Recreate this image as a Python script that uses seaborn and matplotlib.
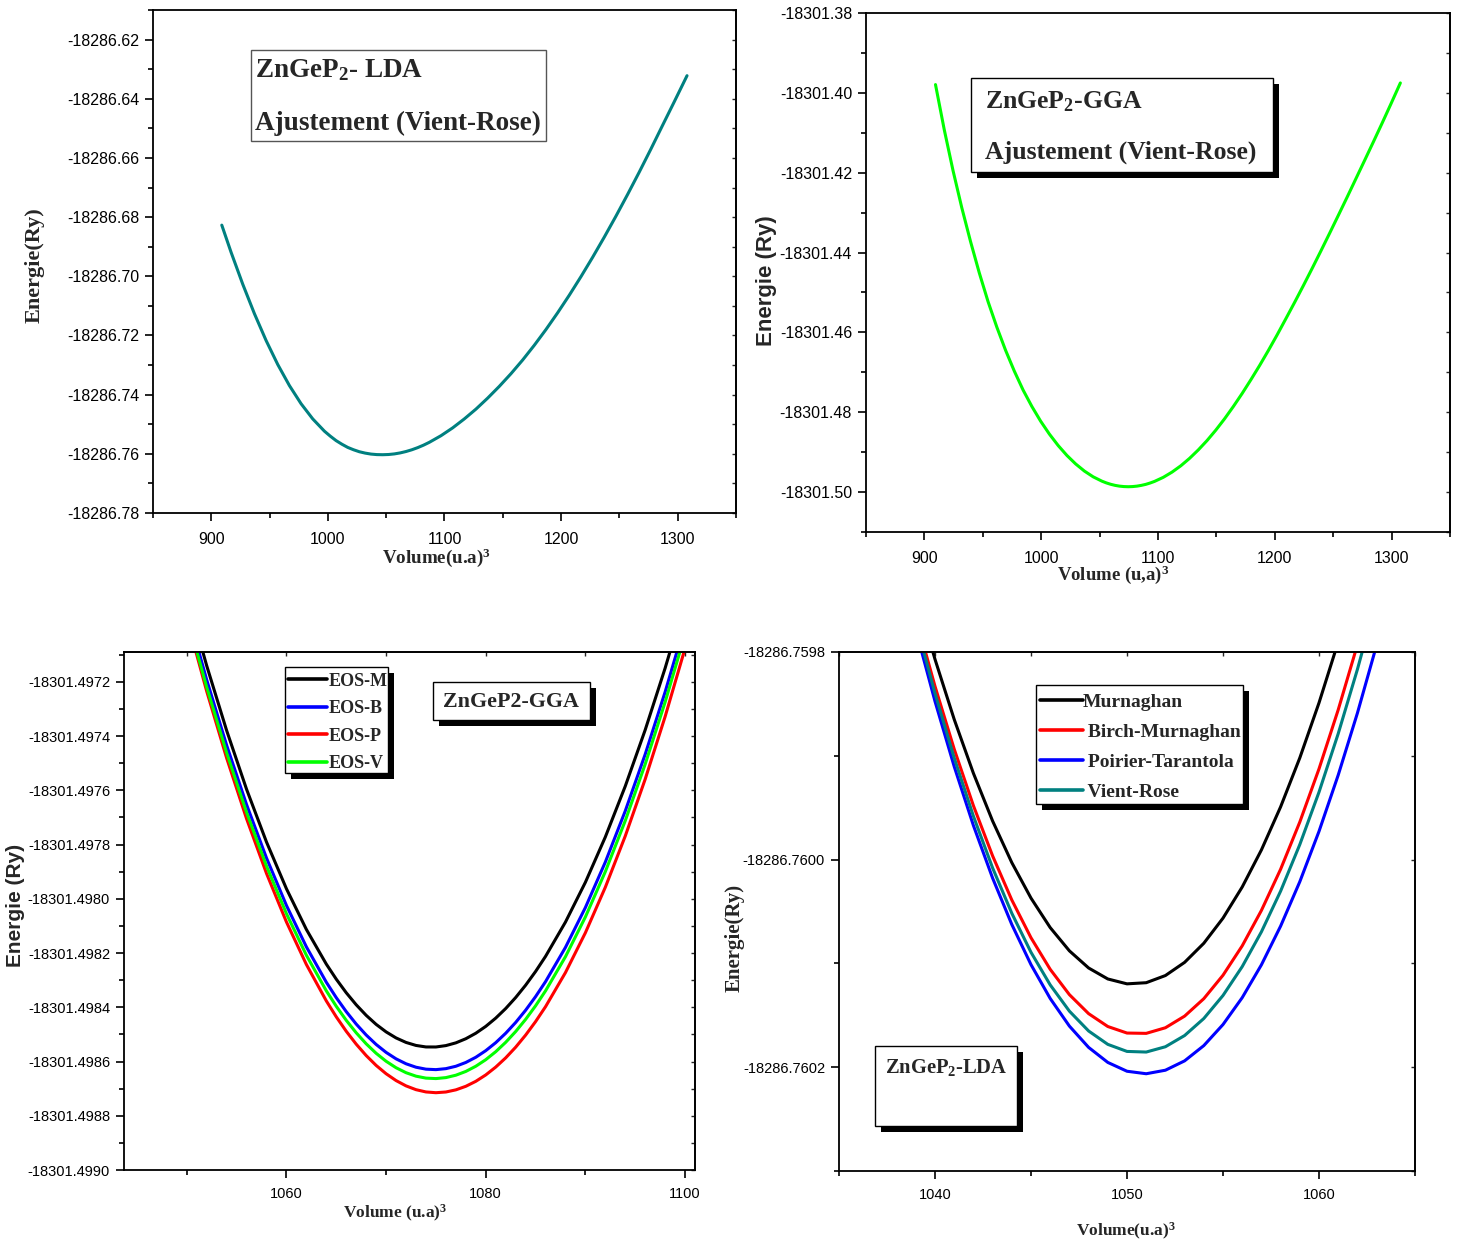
import matplotlib
matplotlib.use("Agg")
import matplotlib.pyplot as plt
import pandas as pd
import seaborn as sns
from matplotlib.patches import Rectangle
from matplotlib.lines import Line2D
from matplotlib.ticker import (MultipleLocator, AutoMinorLocator,
                               FormatStrFormatter, NullFormatter)

# ---------------------------------------------------------------------------
# E(V) data, ZnGeP2
# ---------------------------------------------------------------------------
# LDA, Vinet (Vient-Rose) fit, wide volume range
lda_vr_volume = [909, 917, 927, 937, 947, 957, 967, 977, 987, 997, 1002, 1007,
                 1012, 1017, 1022, 1027, 1032, 1037, 1042, 1047, 1052, 1057,
                 1062, 1067, 1072, 1077, 1082, 1087, 1097, 1107, 1117, 1127,
                 1137, 1147, 1157, 1167, 1177, 1187, 1197, 1207, 1217, 1227,
                 1237, 1247, 1257, 1267, 1277, 1287, 1297, 1308]
lda_vr_energy = [-18286.68271, -18286.69192, -18286.70270, -18286.71265,
                 -18286.72171, -18286.72982, -18286.73694, -18286.74307,
                 -18286.74820, -18286.75234, -18286.75401, -18286.75553,
                 -18286.75675, -18286.75783, -18286.75863, -18286.75930,
                 -18286.75976, -18286.76009, -18286.76026, -18286.76030,
                 -18286.76023, -18286.76003, -18286.75969, -18286.75922,
                 -18286.75863, -18286.75791, -18286.75707, -18286.75611,
                 -18286.75387, -18286.75123, -18286.74820, -18286.74488,
                 -18286.74118, -18286.73720, -18286.73292, -18286.72830,
                 -18286.72331, -18286.71800, -18286.71235, -18286.70640,
                 -18286.70014, -18286.69360, -18286.68678, -18286.67970,
                 -18286.67236, -18286.66480, -18286.65700, -18286.64900,
                 -18286.64105, -18286.63220]

# GGA, Vinet (Vient-Rose) fit, wide volume range
gga_vr_volume = [909.5, 917, 924.5, 932, 939.5, 947, 954.5, 962, 969.5, 977,
                 984.5, 992, 999.5, 1007, 1014.5, 1022, 1029.5, 1037, 1044.5,
                 1052, 1055.75, 1059.5, 1063.25, 1067, 1070.75, 1074.5, 1078.25,
                 1082, 1085.75, 1089.5, 1093.25, 1097, 1104.5, 1112, 1119.5,
                 1127, 1134.5, 1142, 1149.5, 1157, 1164.5, 1172, 1179.5, 1187,
                 1194.5, 1202, 1209.5, 1217, 1224.5, 1232, 1239.5, 1247, 1254.5,
                 1262, 1269.5, 1277, 1284.5, 1292, 1299.5, 1307.5]
gga_vr_energy = [-18301.39793, -18301.40923, -18301.41946, -18301.42876,
                 -18301.43724, -18301.44510, -18301.45229, -18301.45867,
                 -18301.46448, -18301.46971, -18301.47444, -18301.47855,
                 -18301.48223, -18301.48547, -18301.48833, -18301.49082,
                 -18301.49295, -18301.49474, -18301.49618, -18301.49727,
                 -18301.49770, -18301.49805, -18301.49832, -18301.49851,
                 -18301.49862, -18301.49866, -18301.49862, -18301.49851,
                 -18301.49832, -18301.49807, -18301.49773, -18301.49733,
                 -18301.49631, -18301.49500, -18301.49342, -18301.49156,
                 -18301.48944, -18301.48709, -18301.48448, -18301.48164,
                 -18301.47857, -18301.47532, -18301.47187, -18301.46829,
                 -18301.46453, -18301.46062, -18301.45656, -18301.45246,
                 -18301.44826, -18301.44396, -18301.43958, -18301.43513,
                 -18301.43062, -18301.42608, -18301.42147, -18301.41686,
                 -18301.41222, -18301.40752, -18301.40272, -18301.39752]

# GGA, four equations of state around the minimum
gga_eos_volume = [1048, 1050, 1052, 1054, 1056, 1058, 1060, 1062, 1064, 1065,
                  1066, 1067, 1068, 1069, 1070, 1071, 1072, 1073, 1074, 1075,
                  1076, 1077, 1078, 1079, 1080, 1081, 1082, 1083, 1084, 1085,
                  1086, 1088, 1090, 1092, 1094, 1096, 1098, 1100, 1102]
gga_eos_m = [-18301.4965961, -18301.4968795, -18301.4971406, -18301.4973795,
             -18301.4975962, -18301.4977907, -18301.4979629, -18301.4981129,
             -18301.4982407, -18301.4982963, -18301.4983463, -18301.4983907,
             -18301.4984296, -18301.4984630, -18301.4984907, -18301.4985130,
             -18301.4985296, -18301.4985407, -18301.4985463, -18301.4985464,
             -18301.4985413, -18301.4985312, -18301.4985160, -18301.4984958,
             -18301.4984705, -18301.4984401, -18301.4984047, -18301.4983642,
             -18301.4983187, -18301.4982681, -18301.4982124, -18301.4980859,
             -18301.4979392, -18301.4977722, -18301.4975850, -18301.4973775,
             -18301.4971498, -18301.4969019, -18301.4966337]
gga_eos_b = [-18301.4966441, -18301.4969294, -18301.4971926, -18301.4974338,
             -18301.4976527, -18301.4978496, -18301.4980244, -18301.4981770,
             -18301.4983075, -18301.4983644, -18301.4984159, -18301.4984618,
             -18301.4985021, -18301.4985370, -18301.4985663, -18301.4985901,
             -18301.4986083, -18301.4986210, -18301.4986282, -18301.4986299,
             -18301.4986263, -18301.4986175, -18301.4986035, -18301.4985844,
             -18301.4985600, -18301.4985306, -18301.4984959, -18301.4984561,
             -18301.4984110, -18301.4983608, -18301.4983055, -18301.4981792,
             -18301.4980323, -18301.4978647, -18301.4976763, -18301.4974673,
             -18301.4972376, -18301.4969872, -18301.4967161]
gga_eos_p = [-18301.4966753, -18301.4969662, -18301.4972349, -18301.4974811,
             -18301.4977049, -18301.4979064, -18301.4980854, -18301.4982421,
             -18301.4983764, -18301.4984352, -18301.4984884, -18301.4985359,
             -18301.4985779, -18301.4986143, -18301.4986450, -18301.4986702,
             -18301.4986898, -18301.4987038, -18301.4987122, -18301.4987150,
             -18301.4987124, -18301.4987045, -18301.4986914, -18301.4986731,
             -18301.4986495, -18301.4986206, -18301.4985866, -18301.4985473,
             -18301.4985027, -18301.4984529, -18301.4983979, -18301.4982721,
             -18301.4981253, -18301.4979575, -18301.4977688, -18301.4975591,
             -18301.4973285, -18301.4970769, -18301.4968043]
gga_eos_v = [-18301.4966684, -18301.4969550, -18301.4972194, -18301.4974616,
             -18301.4976815, -18301.4978792, -18301.4980547, -18301.4982080,
             -18301.4983391, -18301.4983963, -18301.4984480, -18301.4984940,
             -18301.4985346, -18301.4985696, -18301.4985990, -18301.4986229,
             -18301.4986412, -18301.4986540, -18301.4986612, -18301.4986629,
             -18301.4986593, -18301.4986505, -18301.4986366, -18301.4986175,
             -18301.4985933, -18301.4985639, -18301.4985293, -18301.4984896,
             -18301.4984447, -18301.4983947, -18301.4983395, -18301.4982136,
             -18301.4980671, -18301.4979000, -18301.4977123, -18301.4975039,
             -18301.4972749, -18301.4970252, -18301.4967550]
gga_eos_labels = ["EOS-M", "EOS-B", "EOS-P", "EOS-V"]

# LDA, four equations of state around the minimum (one point per volume unit)
lda_eos_volume = [1038, 1039, 1040, 1041, 1042, 1043, 1044, 1045, 1046, 1047,
                  1048, 1049, 1050, 1051, 1052, 1053, 1054, 1055, 1056, 1057,
                  1058, 1059, 1060, 1061, 1062, 1063, 1064]
lda_murnaghan = [-18286.7596737, -18286.7597433, -18286.7598070, -18286.7598649,
                 -18286.7599168, -18286.7599628, -18286.7600029, -18286.7600371,
                 -18286.7600655, -18286.7600879, -18286.7601044, -18286.7601150,
                 -18286.7601197, -18286.7601186, -18286.7601117, -18286.7600990,
                 -18286.7600806, -18286.7600564, -18286.7600264, -18286.7599907,
                 -18286.7599492, -18286.7599020, -18286.7598490, -18286.7597903,
                 -18286.7597258, -18286.7596555, -18286.7595795]
lda_birch = [-18286.7596939, -18286.7597665, -18286.7598330, -18286.7598935,
             -18286.7599480, -18286.7599964, -18286.7600389, -18286.7600753,
             -18286.7601057, -18286.7601301, -18286.7601484, -18286.7601608,
             -18286.7601671, -18286.7601674, -18286.7601620, -18286.7601508,
             -18286.7601340, -18286.7601114, -18286.7600831, -18286.7600490,
             -18286.7600093, -18286.7599638, -18286.7599126, -18286.7598557,
             -18286.7597931, -18286.7597247, -18286.7596506]
lda_poirier = [-18286.7597037, -18286.7597786, -18286.7598475, -18286.7599103,
               -18286.7599671, -18286.7600178, -18286.7600625, -18286.7601012,
               -18286.7601338, -18286.7601604, -18286.7601809, -18286.7601954,
               -18286.7602039, -18286.7602063, -18286.7602029, -18286.7601939,
               -18286.7601792, -18286.7601589, -18286.7601330, -18286.7601014,
               -18286.7600641, -18286.7600213, -18286.7599728, -18286.7599186,
               -18286.7598589, -18286.7597934, -18286.7597224]
lda_vinet = [-18286.7596969, -18286.7597715, -18286.7598398, -18286.7599020,
             -18286.7599581, -18286.7600080, -18286.7600517, -18286.7600893,
             -18286.7601207, -18286.7601460, -18286.7601651, -18286.7601780,
             -18286.7601848, -18286.7601854, -18286.7601803, -18286.7601695,
             -18286.7601531, -18286.7601309, -18286.7601031, -18286.7600696,
             -18286.7600304, -18286.7599855, -18286.7599350, -18286.7598787,
             -18286.7598168, -18286.7597492, -18286.7596960]
lda_eos_labels = ["Murnaghan", " Birch-Murnaghan", " Poirier-Tarantola", " Vient-Rose"]

# ---------------------------------------------------------------------------
# figure setup
# ---------------------------------------------------------------------------
W, H, DPI = 1458, 1245, 100
sns.set_style("ticks")
plt.rcParams["font.family"] = ["Liberation Sans", "DejaVu Sans"]
plt.rcParams["mathtext.fontset"] = "custom"
plt.rcParams["mathtext.rm"] = "Liberation Serif:bold"
plt.rcParams["mathtext.it"] = "Liberation Serif:bold"
plt.rcParams["mathtext.bf"] = "Liberation Serif:bold"
SERIF = "Liberation Serif"
SANS = "Liberation Sans"

TEAL = "#008080"
GREEN = "#00FF00"
BLUE = "#0000FF"
RED = "#FF0000"
LW = 2.2

fig = plt.figure(figsize=(W / DPI, H / DPI), dpi=DPI)


def fx(x):
    return x / W


def fy(y):
    return 1 - y / H


def add_panel(l, t, r, b):
    return fig.add_axes([fx(l), fy(b), (r - l) / W, (b - t) / H])


def dress(ax, xlim, ylim, xstep, ystep, yfmt, size, xpad, top=False):
    ax.set_xlim(*xlim)
    ax.set_ylim(*ylim)
    ax.xaxis.set_major_locator(MultipleLocator(xstep))
    ax.xaxis.set_minor_locator(AutoMinorLocator(2))
    ax.yaxis.set_major_locator(MultipleLocator(ystep))
    ax.yaxis.set_minor_locator(AutoMinorLocator(2))
    ax.yaxis.set_major_formatter(FormatStrFormatter(yfmt))
    ax.xaxis.set_major_formatter(FormatStrFormatter("%d"))
    ax.tick_params(which="both", direction="out", width=1.2, colors="black",
                   labelsize=size, top=False, right=False)
    ax.tick_params(axis="y", pad=4)
    ax.tick_params(axis="x", pad=xpad)
    ax.tick_params(which="major", length=6)
    ax.tick_params(which="minor", length=3.5)
    for lab in ax.get_xticklabels() + ax.get_yticklabels():
        lab.set_family(SANS)
    for s in ax.spines.values():
        s.set_visible(True)
        s.set_linewidth(1.3)
        s.set_color("black")
    ax.set_xlabel("")
    ax.set_ylabel("")
    sec = ax.secondary_yaxis("right")
    sec.yaxis.set_major_locator(MultipleLocator(ystep))
    sec.yaxis.set_minor_locator(AutoMinorLocator(2))
    sec.yaxis.set_major_formatter(NullFormatter())
    sec.tick_params(which="both", direction="in", length=3, width=1)
    sec.spines["right"].set_linewidth(1.3)
    if top:
        sect = ax.secondary_xaxis("top")
        sect.xaxis.set_major_locator(MultipleLocator(xstep))
        sect.xaxis.set_minor_locator(AutoMinorLocator(2))
        sect.xaxis.set_major_formatter(NullFormatter())
        sect.tick_params(which="both", direction="in", length=3, width=1)
        sect.spines["top"].set_linewidth(1.3)


def box(l, t, r, b, shadow=6, edge="black", lw=1.0):
    if shadow:
        fig.add_artist(Rectangle((fx(l + shadow), fy(b + shadow)), (r - l) / W,
                                 (b - t) / H, transform=fig.transFigure,
                                 facecolor="black", edgecolor="none", zorder=1.0))
    fig.add_artist(Rectangle((fx(l), fy(b)), (r - l) / W, (b - t) / H,
                             transform=fig.transFigure, facecolor="white",
                             edgecolor=edge, lw=lw, zorder=1.1))


def label(x, y, s, size, family=SERIF, rotation=0, ha="center"):
    fig.text(fx(x), fy(y), s, ha=ha, va="center", rotation=rotation,
             fontsize=size, fontweight="bold", family=family, zorder=3)


def curve(ax, vol, energy, color):
    df = pd.DataFrame({"Volume": vol, "Energie": energy})
    sns.lineplot(data=df, x="Volume", y="Energie", ax=ax, color=color,
                 linewidth=LW, estimator=None, sort=False, legend=False)


# ---------------------------------------------------------------------------
# top left: LDA, Vinet fit
# ---------------------------------------------------------------------------
ax1 = add_panel(153, 10, 736, 513)
curve(ax1, lda_vr_volume, lda_vr_energy, TEAL)
dress(ax1, (850, 1350), (-18286.78, -18286.61), 100, 0.02, "%.2f", 11.5, 7.5)
box(251, 50, 546, 141, shadow=0, edge="#555555", lw=1.0)
label(255, 70, r"ZnGeP$_{2}$- LDA", 19.5, ha="left")
label(255, 123, "Ajustement (Vient-Rose)", 19.5, ha="left")
label(35, 265, "Energie(Ry)", 16, rotation=90)
label(437, 558, r"Volume(u.a)$^{3}$", 13.7)

# ---------------------------------------------------------------------------
# top right: GGA, Vinet fit
# ---------------------------------------------------------------------------
ax2 = add_panel(866, 13, 1450, 532)
curve(ax2, gga_vr_volume, gga_vr_energy, GREEN)
dress(ax2, (850, 1350), (-18301.51, -18301.38), 100, 0.02, "%.2f", 11.5, 7.5)
box(971, 78, 1273, 172)
label(985, 102, r"ZnGeP$_{2}$-GGA", 18.5, ha="left")
label(985, 152, "Ajustement (Vient-Rose)", 18.5, ha="left")
label(767, 281, "Energie (Ry)", 16, family=SANS, rotation=90)
label(1113, 575, r"Volume (u,a)$^{3}$", 13.5)

# ---------------------------------------------------------------------------
# bottom left: GGA, four EOS
# ---------------------------------------------------------------------------
ax3 = add_panel(124, 652, 695, 1170)
gga_series = [gga_eos_m, gga_eos_b, gga_eos_p, gga_eos_v]
gga_colors = ["black", BLUE, RED, GREEN]
for energy, color in zip(gga_series, gga_colors):
    curve(ax3, gga_eos_volume, energy, color)
dress(ax3, (1043.7, 1101.0), (-18301.4990, -18301.49709), 20, 0.0002,
      "%.4f", 10.5, 6.5, top=True)
box(285, 667, 388, 773)
fig.legend([Line2D([], [], color=c, lw=2.6) for c in gga_colors], gga_eos_labels,
           loc="upper left", bbox_to_anchor=(fx(286), fy(671)),
           frameon=False, prop=dict(family=SERIF, weight="bold", size=13),
           handlelength=2.15, handletextpad=0.12, labelspacing=0.58,
           borderpad=0.1, borderaxespad=0)
box(433, 682, 590, 720)
label(511, 702, "ZnGeP2-GGA", 15.8)
label(16, 905, "Energie (Ry)", 15, family=SANS, rotation=90)
label(395, 1213, r"Volume (u.a)$^{3}$", 12.5)

# ---------------------------------------------------------------------------
# bottom right: LDA, four EOS
# ---------------------------------------------------------------------------
ax4 = add_panel(839, 652, 1415, 1171)
lda_series = [lda_murnaghan, lda_birch, lda_poirier, lda_vinet]
lda_colors = ["black", RED, BLUE, TEAL]
for energy, color in zip(lda_series, lda_colors):
    curve(ax4, lda_eos_volume, energy, color)
dress(ax4, (1035, 1065), (-18286.7603, -18286.7598), 10, 0.0002,
      "%.4f", 10.5, 6.5, top=True)
box(1036, 685, 1243, 804)
fig.legend([Line2D([], [], color=c, lw=2.6) for c in lda_colors], lda_eos_labels,
           loc="upper left", bbox_to_anchor=(fx(1038), fy(691)),
           frameon=False, prop=dict(family=SERIF, weight="bold", size=14),
           handlelength=2.2, handletextpad=0.0, labelspacing=0.64,
           borderpad=0.1, borderaxespad=0)
box(875, 1046, 1017, 1126)
label(885, 1067, r"ZnGeP$_{2}$-LDA", 14.8, ha="left")
label(735, 938, "Energie(Ry)", 15, rotation=90)
label(1126, 1231, r"Volume(u.a)$^{3}$", 12.5)

fig.savefig("out.png", dpi=DPI)
